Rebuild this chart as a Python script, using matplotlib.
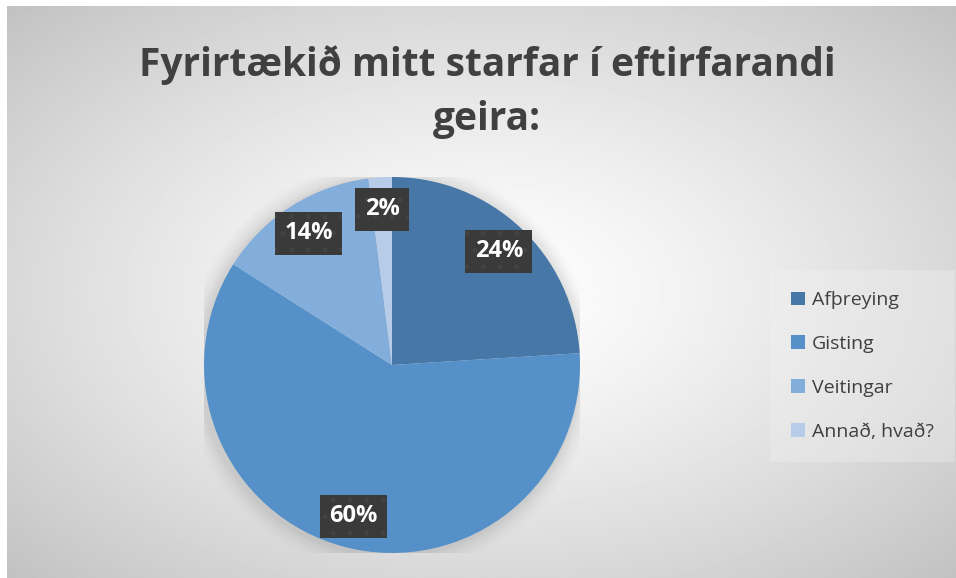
import numpy as np
import matplotlib.pyplot as plt

# data
categories = ['Afþreying', 'Gisting', 'Veitingar', 'Annað, hvað?']
shares = [24, 60, 14, 2]
slice_colors = ['#4677A7', '#5591C8', '#83ADDA', '#B6CCE8']
title = 'Fyrirtækið mitt starfar í eftirfarandi\ngeira:'

plt.rcParams['font.family'] = ['Open Sans', 'DejaVu Sans']

W, H = 956, 578
fig = plt.figure(figsize=(W / 100, H / 100), dpi=100)
fig.patch.set_facecolor('white')

# radial grey gradient behind the chart area
bg = fig.add_axes([7 / W, 0, (W - 7) / W, (H - 6) / H])
bg.set_axis_off()
yy, xx = np.mgrid[0:1:300j, 0:1:500j]
d = np.sqrt(((xx - 0.5) / 0.5) ** 2 + ((yy - 0.5) / 0.5) ** 2) / np.sqrt(2)
shade = 1 - 0.24 * np.clip(d, 0, 1) ** 1.3
bg.imshow(shade, cmap='gray', vmin=0, vmax=1, aspect='auto',
          extent=[0, 1, 0, 1], interpolation='bilinear')
bg.set_xlim(0, 1)
bg.set_ylim(0, 1)

# pie axes: centre (392, 365) px, radius 188 px
cx, cy, r = 392, 365, 188
ax = fig.add_axes([(cx - r) / W, (H - cy - r) / H, 2 * r / W, 2 * r / H])
ax.set_axis_off()

# soft shadow under the pie
for k, a in enumerate(np.linspace(0.06, 0.01, 7)):
    ax.add_patch(plt.Circle((-0.01, -0.01), 1.0 + 0.014 * (k + 1),
                            color='#808080', alpha=a, lw=0, zorder=0))

wedges, texts, autotexts = ax.pie(
    shares, colors=slice_colors, startangle=90, counterclock=False,
    autopct='%1.0f%%', pctdistance=0.83,
    wedgeprops=dict(linewidth=0))
for w in wedges:
    w.set_zorder(2)
for t in autotexts:
    t.set_color('white')
    t.set_fontsize(17)
    t.set_fontweight('bold')
    t.set_zorder(5)
    t.set_bbox(dict(boxstyle='square,pad=0.4', facecolor='#3A3A3A',
                    edgecolor='#434343', hatch='.', linewidth=0))
ax.set_xlim(-1, 1)
ax.set_ylim(-1, 1)
ax.set_aspect('equal')

fig.text(487 / W, 1 - 92 / H, title, ha='center', va='center',
         fontsize=28, fontweight='bold', color='#404040', linespacing=1.5)

leg = fig.legend(wedges, categories, loc='center left',
                 bbox_to_anchor=(766 / W, 1 - 366 / H), frameon=True,
                 fontsize=14, labelcolor='#404040', handlelength=0.7,
                 handleheight=0.7, handletextpad=0.35, labelspacing=1.33,
                 borderpad=0.8)
leg.get_frame().set_facecolor('#F2F2F2')
leg.get_frame().set_alpha(0.35)
leg.get_frame().set_linewidth(0)
leg.get_frame().set_boxstyle('square')

fig.savefig('out.png', dpi=100)
